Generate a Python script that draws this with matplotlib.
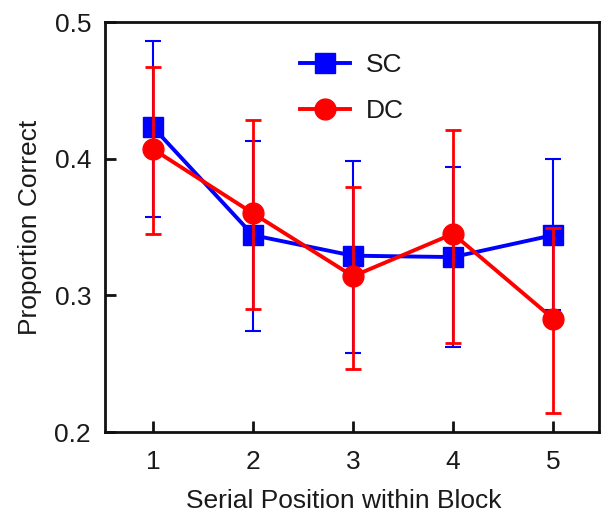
import matplotlib
matplotlib.use("Agg")
import matplotlib.pyplot as plt

positions = [1, 2, 3, 4, 5]
tick_labels = ["1", "2", "3", "4", "5"]

sc_mean = [0.423, 0.344, 0.329, 0.328, 0.344]
sc_upper = [0.486, 0.413, 0.398, 0.394, 0.400]
sc_lower = [0.357, 0.274, 0.258, 0.262, 0.289]

dc_mean = [0.407, 0.360, 0.314, 0.345, 0.283]
dc_upper = [0.467, 0.428, 0.379, 0.421, 0.349]
dc_lower = [0.345, 0.290, 0.246, 0.265, 0.214]

plt.rcParams['font.family'] = ['Liberation Sans', 'DejaVu Sans']
FS = 19
TXT = '#1a1a1a'

fig = plt.figure(figsize=(6.04, 5.15), dpi=100)
ax = fig.add_axes([105/604, (515-432)/515, 494/604, 410/515])

def draw(mean, lo, hi, color, marker, ms, label, elw):
    yerr = [[m - l for m, l in zip(mean, lo)], [h - m for m, h in zip(mean, hi)]]
    ax.errorbar(positions, mean, yerr=yerr, fmt='none', ecolor=color,
                elinewidth=elw, capsize=6, capthick=elw)
    ax.plot(positions, mean, color=color, lw=2.8, marker=marker, ms=ms,
            label=label)

draw(sc_mean, sc_lower, sc_upper, '#0000ff', 's', 14.5, 'SC', 1.5)
draw(dc_mean, dc_lower, dc_upper, '#ff0000', 'o', 15, 'DC', 2.0)

ax.set_xlim(0.52, 5.46)
ax.set_ylim(0.2, 0.5)
ax.set_xticks(positions)
ax.set_xticklabels(tick_labels)
ax.set_yticks([0.2, 0.3, 0.4, 0.5])
ax.set_yticklabels(["0.2", "0.3", "0.4", "0.5"])

for s in ax.spines.values():
    s.set_linewidth(2.0)
    s.set_color('#111111')
ax.tick_params(direction='in', length=8, width=2.0, labelsize=FS,
               labelcolor=TXT, color='#111111')
ax.tick_params(axis='y', pad=10)
ax.tick_params(axis='x', pad=13)

ax.set_xlabel("Serial Position within Block", fontsize=FS, labelpad=11,
              x=0.484, color=TXT)
ax.set_ylabel("Proportion Correct", fontsize=FS, labelpad=9, color=TXT)

leg = ax.legend(loc='upper left', bbox_to_anchor=(0.395, 0.925), frameon=False,
                borderpad=0, borderaxespad=0, handlelength=1.9, handletextpad=0.6,
                labelspacing=0.85, fontsize=FS, markerscale=1.0)
for t in leg.get_texts():
    t.set_color(TXT)

fig.savefig("out.png", dpi=100)
